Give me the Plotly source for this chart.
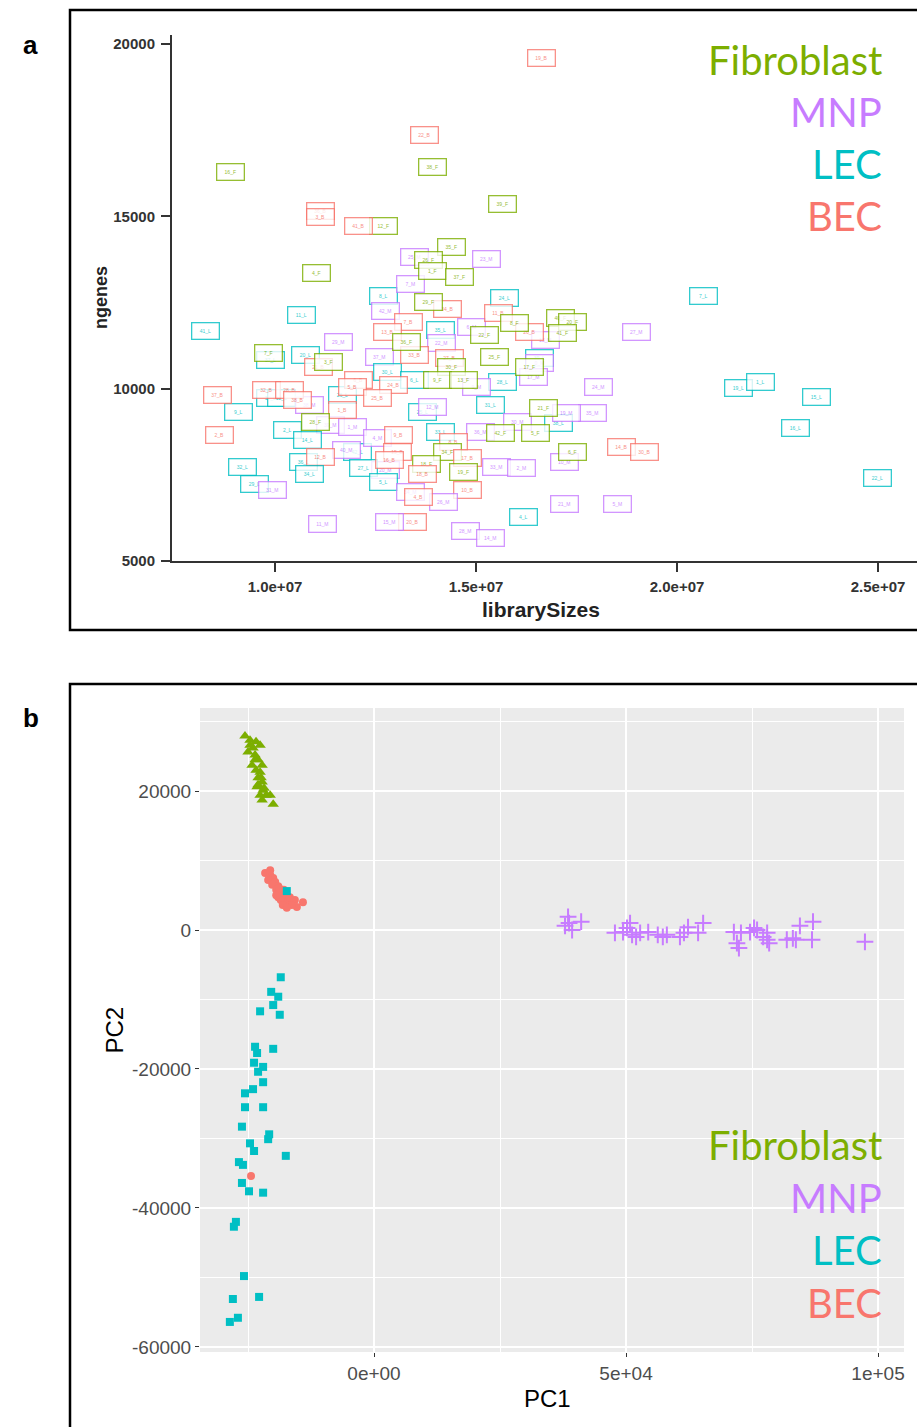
import plotly.graph_objects as go

# ---------------- colours per cell type ----------------
COL = {"Fibroblast": "#7CAE00", "MNP": "#C77CFF", "LEC": "#00BFC4", "BEC": "#F8766D"}

# ---------------- panel a: library size vs detected genes ----------------
fib_names = ["16_F", "38_F", "39_F", "12_F", "35_F", "26_F", "4_F", "1_F", "37_F", "29_F",
             "8_F", "40_F", "20_F", "41_F", "22_F", "36_F", "7_F", "3_F", "25_F", "17_F",
             "30_F", "9_F", "13_F", "28_F", "21_F", "42_F", "5_F", "34_F", "18_F", "19_F", "6_F"]
fib_lib = [8.90e6, 13.91e6, 15.67e6, 12.71e6, 14.38e6, 13.81e6, 11.02e6, 13.93e6, 14.58e6, 13.81e6,
           15.97e6, 17.09e6, 17.39e6, 17.16e6, 15.22e6, 13.28e6, 9.83e6, 11.32e6, 15.47e6, 16.34e6,
           14.40e6, 14.03e6, 14.68e6, 11.00e6, 16.67e6, 15.60e6, 16.47e6, 14.28e6, 13.78e6, 14.68e6, 17.41e6]
fib_genes = [16290, 16440, 15360, 14720, 14120, 13740, 13360, 13420, 13250, 12520,
             11910, 12060, 11940, 11620, 11570, 11360, 11040, 10780, 10930, 10640,
             10640, 10260, 10260, 9040, 9450, 8720, 8720, 8170, 7800, 7590, 8170]

mnp_names = ["25_M", "23_M", "7_M", "42_M", "6_M", "13_M", "22_M", "29_M", "37_M", "0_M",
             "17_M", "9_M", "24_M", "27_M", "38_M", "39_M", "1_M", "12_M", "30_M", "35_M",
             "19_M", "36_M", "4_M", "40_M", "20_M", "33_M", "2_M", "10_M", "31_M", "34_M",
             "26_M", "21_M", "5_M", "11_M", "15_M", "28_M", "14_M"]
mnp_lib = [13.46e6, 15.27e6, 13.38e6, 12.74e6, 14.88e6, 16.72e6, 14.15e6, 11.57e6, 12.61e6, 16.59e6,
           16.42e6, 15.02e6, 18.04e6, 19.00e6, 10.87e6, 11.37e6, 11.92e6, 13.91e6, 16.02e6, 17.91e6,
           17.26e6, 15.10e6, 12.56e6, 11.79e6, 12.74e6, 15.52e6, 16.14e6, 17.21e6, 9.95e6, 13.36e6,
           14.18e6, 17.21e6, 18.53e6, 11.19e6, 12.86e6, 14.73e6, 15.35e6]
mnp_genes = [13830, 13770, 13040, 12260, 11800, 11420, 11330, 11360, 10930, 10750,
             10350, 10060, 10060, 11650, 9540, 8960, 8900, 9480, 9040, 9300,
             9300, 8750, 8580, 8230, 7650, 7740, 7710, 7880, 7070, 6990,
             6700, 6640, 6640, 6060, 6140, 5860, 5680]

lec_names = ["8_L", "24_L", "7_L", "11_L", "41_L", "35_L", "37_L", "20_L", "39_L", "30_L",
             "6_L", "28_L", "26_L", "17_L", "12_L", "9_L", "25_L", "31_L", "38_L", "2_L",
             "14_L", "33_L", "42_L", "32_L", "36_L", "34_L", "27_L", "5_L", "29_L", "4_L",
             "19_L", "1_L", "15_L", "16_L", "22_L"]
lec_lib = [12.71e6, 15.70e6, 20.65e6, 10.67e6, 8.28e6, 14.11e6, 9.88e6, 10.75e6, 16.59e6, 12.79e6,
           13.48e6, 15.65e6, 11.69e6, 9.88e6, 10.17e6, 9.08e6, 13.68e6, 15.35e6, 17.04e6, 10.32e6,
           10.82e6, 14.11e6, 12.04e6, 9.18e6, 10.70e6, 10.87e6, 12.19e6, 12.69e6, 9.50e6, 16.17e6,
           21.52e6, 22.07e6, 23.48e6, 22.94e6, 24.98e6]
lec_genes = [12700, 12640, 12700, 12150, 11680, 11710, 10840, 10990, 10900, 10490,
             10260, 10200, 9830, 9740, 9740, 9330, 9330, 9540, 9010, 8810,
             8520, 8750, 8170, 7740, 7880, 7510, 7710, 7280, 7220, 6290,
             10030, 10200, 9770, 8870, 7420]

bec_names = ["19_B", "22_B", "36_B", "3_B", "41_B", "34_B", "11_B", "7_B", "13_B", "26_B",
             "33_B", "21_B", "27_B", "6_B", "5_B", "24_B", "37_B", "32_B", "28_B", "38_B",
             "25_B", "1_B", "2_B", "9_B", "8_B", "12_B", "15_B", "16_B", "17_B", "18_B",
             "10_B", "4_B", "20_B", "14_B", "30_B"]
bec_lib = [16.62e6, 13.73e6, 11.12e6, 11.12e6, 12.07e6, 14.30e6, 15.55e6, 13.31e6, 12.81e6, 16.34e6,
           13.48e6, 11.07e6, 14.35e6, 12.07e6, 11.92e6, 12.94e6, 8.56e6, 9.80e6, 10.37e6, 10.55e6,
           12.54e6, 11.67e6, 8.63e6, 13.06e6, 14.43e6, 11.12e6, 13.04e6, 12.86e6, 14.78e6, 13.66e6,
           14.80e6, 13.56e6, 13.43e6, 18.61e6, 19.18e6]
bec_genes = [19600, 17360, 15160, 14990, 14720, 12320, 12200, 11940, 11650, 11650,
             10990, 10640, 10900, 10260, 10060, 10120, 9830, 9970, 9970, 9680,
             9740, 9390, 8670, 8670, 8460, 8030, 8170, 7940, 8000, 7510,
             7070, 6870, 6120, 8320, 8150]

a_xticks = [1.0e7, 1.5e7, 2.0e7, 2.5e7]
a_xticktext = ["1.0e+07", "1.5e+07", "2.0e+07", "2.5e+07"]
a_yticks = [5000, 10000, 15000, 20000]
a_yticktext = ["5000", "10000", "15000", "20000"]

# ---------------- panel b: PCA ----------------
fib_pc1 = [-25600, -24600, -23400, -24000, -22600, -25000, -23600, -23000, -24200, -23400,
           -22600, -23000, -22200, -23200, -22000, -22600, -21400, -22200, -20600, -20000,
           -24600, -22200, -23000, -21800, -23600, -22400]
fib_pc2 = [27900, 27300, 27100, 26200, 26600, 25600, 25200, 24500, 23700, 23000,
           22700, 21900, 21300, 20600, 20100, 19400, 19400, 18700, 19400, 18100,
           26600, 23700, 20900, 20400, 24500, 21900]

bec_pc1 = [-21600, -20600, -20000, -21000, -19600, -20200, -19000, -19400, -18700, -18100,
           -19000, -17700, -18500, -17100, -16700, -15700, -14100, -15300, -18100, -19400,
           -20600, -17900, -16300, -17300, -18800, -24400]
bec_pc2 = [8200, 7900, 7500, 7200, 6900, 6500, 6300, 5800, 5500, 5000,
           4700, 4600, 4300, 4000, 4700, 4300, 4000, 3300, 3600, 5000,
           8600, 5800, 3600, 3200, 6000, -35400]

lec_pc1 = [-17300, -18500, -20400, -19000, -20000, -22600, -18700, -23600, -23200, -20000,
           -23800, -22000, -23000, -22000, -24000, -25600, -25600, -22000, -26200, -20800,
           -21000, -24600, -23800, -17500, -26800, -26000, -26200, -24800, -22000, -27400,
           -27800, -25800, -28000, -22800, -27000, -28600]
lec_pc2 = [5600, -6800, -8900, -9600, -10800, -11700, -12200, -16800, -17700, -17100,
           -19100, -19700, -20400, -21900, -22900, -23500, -25500, -25500, -28300, -29400,
           -30100, -30700, -31800, -32500, -33400, -33800, -36400, -37600, -37800, -42000,
           -42700, -49800, -53100, -52800, -55800, -56400]

mnp_pc1 = [38500, 37900, 39300, 41100, 38700, 47800, 49400, 50200, 50800, 51200,
           52000, 52800, 54400, 56300, 57300, 58100, 60700, 61500, 62300, 64300,
           65300, 71400, 72000, 72400, 72800, 74600, 75400, 76000, 77200, 78000,
           78400, 78000, 81900, 83100, 83700, 84500, 87100, 86900, 97400]
mnp_pc2 = [1900, 600, 0, 1200, 1000, -400, -300, 300, 1000, -700,
           -1000, -400, -300, -700, -1000, -700, -1000, -400, 400, -400,
           1000, -300, -1900, -2600, -400, -300, 300, 0, -1000, -1400,
           -1900, -400, -1400, -1200, -1400, 600, 1200, -1400, -1700]

b_xticks = [0, 5e4, 1e5]
b_xticktext = ["0e+00", "5e+04", "1e+05"]
b_xminor = [-2.5e4, 2.5e4, 7.5e4]
b_yticks = [20000, 0, -20000, -40000, -60000]
b_yticktext = ["20000", "0", "-20000", "-40000", "-60000"]
b_yminor = [30000, 10000, -10000, -30000, -50000]

legend_order = ["Fibroblast", "MNP", "LEC", "BEC"]

# ---------------- page geometry ----------------
W, H = 917, 1427


def px(x):
    return x / W


def py(y):
    return 1 - y / H


fig = go.Figure()

# invisible trace to anchor panel a axes
fig.add_trace(go.Scatter(x=fib_lib, y=fib_genes, mode="markers", marker=dict(opacity=0),
                         xaxis="x", yaxis="y", showlegend=False, hoverinfo="skip"))

annotations = []
label_sets = [
    ("BEC", bec_names, bec_lib, bec_genes),
    ("LEC", lec_names, lec_lib, lec_genes),
    ("MNP", mnp_names, mnp_lib, mnp_genes),
    ("Fibroblast", fib_names, fib_lib, fib_genes),
]
# interleave groups so that boxes overlap in mixed order
rows = []
for grp, names, xs, ys in label_sets:
    for i, (n, xv, yv) in enumerate(zip(names, xs, ys)):
        rows.append((i, grp, n, xv, yv))
rows.sort(key=lambda r: r[0])
for _, grp, n, xv, yv in rows:
    annotations.append(dict(
        x=xv, y=yv, xref="x", yref="y", text=n, showarrow=False,
        font=dict(size=5, color=COL[grp], family="Liberation Sans"),
        width=22, height=11, borderpad=2, borderwidth=1.3,
        bordercolor=COL[grp], bgcolor="white", opacity=0.8,
    ))

# panel b scatter traces
fig.add_trace(go.Scatter(x=bec_pc1, y=bec_pc2, mode="markers", xaxis="x2", yaxis="y2",
                         marker=dict(symbol="circle", size=8, color=COL["BEC"]), showlegend=False))
fig.add_trace(go.Scatter(x=lec_pc1, y=lec_pc2, mode="markers", xaxis="x2", yaxis="y2",
                         marker=dict(symbol="square", size=8, color=COL["LEC"]), showlegend=False))
fig.add_trace(go.Scatter(x=fib_pc1, y=fib_pc2, mode="markers", xaxis="x2", yaxis="y2",
                         marker=dict(symbol="triangle-up", size=10, color=COL["Fibroblast"]),
                         showlegend=False))
fig.add_trace(go.Scatter(x=mnp_pc1, y=mnp_pc2, mode="markers", xaxis="x2", yaxis="y2",
                         marker=dict(symbol="cross-thin-open", size=12, color=COL["MNP"],
                                     line=dict(color=COL["MNP"], width=2)),
                         showlegend=False))

# colour-coded cell type keys
for k, grp in enumerate(legend_order):
    annotations.append(dict(x=px(884), y=py(60 + 52 * k), xref="paper", yref="paper",
                            xanchor="right", yanchor="middle", showarrow=False, text=grp,
                            font=dict(family="Lato", size=40, color=COL[grp])))
    annotations.append(dict(x=px(884), y=py(1145 + 52.5 * k), xref="paper", yref="paper",
                            xanchor="right", yanchor="middle", showarrow=False, text=grp,
                            font=dict(family="Lato", size=40, color=COL[grp])))

# panel letters and axis titles
title_font = dict(family="Liberation Sans", color="#222222")
annotations += [
    dict(x=px(21), y=py(45), xref="paper", yref="paper", text="<b>a</b>", showarrow=False,
         yanchor="middle", font=dict(family="Liberation Sans", size=26, color="black")),
    dict(x=px(21), y=py(718), xref="paper", yref="paper", text="<b>b</b>", showarrow=False,
         yanchor="middle", font=dict(family="Liberation Sans", size=26, color="black")),
    dict(x=px(541), y=py(609), xref="paper", yref="paper", text="<b>librarySizes</b>",
         yanchor="middle", showarrow=False, font=dict(title_font, size=21)),
    dict(x=px(89), y=py(298), xref="paper", yref="paper", text="<b>ngenes</b>", textangle=-90,
         yanchor="middle", showarrow=False, font=dict(title_font, size=18)),
    dict(x=px(547), y=py(1398), xref="paper", yref="paper", text="PC1", yanchor="middle",
         showarrow=False, font=dict(family="Liberation Sans", size=24, color="black")),
    dict(x=px(98), y=py(1030), xref="paper", yref="paper", text="PC2", textangle=-90,
         yanchor="middle", showarrow=False,
         font=dict(family="Liberation Sans", size=24, color="black")),
]

shapes = [
    # panel frames (right / bottom sides run off the page)
    dict(type="rect", xref="paper", yref="paper", x0=px(70), x1=1.02, y0=py(630), y1=py(10),
         line=dict(color="black", width=2.5), fillcolor="rgba(0,0,0,0)", layer="above"),
    dict(type="rect", xref="paper", yref="paper", x0=px(70), x1=1.02, y0=-0.02, y1=py(684),
         line=dict(color="black", width=2.5), fillcolor="rgba(0,0,0,0)", layer="above"),
    # grey plotting panel for b
    dict(type="rect", xref="x2 domain", yref="y2 domain", x0=0, x1=1, y0=0, y1=1,
         fillcolor="#EBEBEB", line=dict(width=0), layer="below"),
]

a_tickfont = dict(family="Liberation Sans Narrow, Liberation Sans", size=15, color="#333333",
                  weight="bold")
b_tickfont = dict(family="Liberation Sans", size=19, color="#4D4D4D")

fig.update_layout(
    width=W, height=H,
    margin=dict(l=0, r=0, t=0, b=0, pad=0, autoexpand=False),
    paper_bgcolor="white", plot_bgcolor="rgba(0,0,0,0)", showlegend=False,
    annotations=annotations, shapes=shapes,
    xaxis=dict(domain=[px(172), 1], range=[7.438e6, 2.597e7], anchor="y",
               showgrid=False, zeroline=False, showline=True, linecolor="#333333", linewidth=2,
               ticks="outside", ticklen=9, tickwidth=2, tickcolor="#333333",
               tickvals=a_xticks, ticktext=a_xticktext, tickfont=a_tickfont,
               ticklabelstandoff=2),
    yaxis=dict(domain=[py(561), py(35)], range=[5000, 20261], anchor="x",
               showgrid=False, zeroline=False, showline=True, linecolor="#333333", linewidth=2,
               ticks="outside", ticklen=9, tickwidth=2, tickcolor="#333333",
               tickvals=a_yticks, ticktext=a_yticktext, tickfont=a_tickfont,
               ticklabelstandoff=3),
    xaxis2=dict(domain=[px(200), px(904)], range=[-34524, 105152], anchor="y2",
                showgrid=True, gridcolor="white", gridwidth=1.6, zeroline=False, showline=False,
                ticks="outside", ticklen=4, tickwidth=1.2, tickcolor="#333333",
                tickvals=b_xticks, ticktext=b_xticktext, tickfont=b_tickfont,
                ticklabelstandoff=0,
                minor=dict(tickvals=b_xminor, showgrid=True, gridcolor="white", gridwidth=0.8,
                           ticks="")),
    yaxis2=dict(domain=[py(1352), py(708)], range=[-60726, 31946], anchor="x2",
                showgrid=True, gridcolor="white", gridwidth=1.6, zeroline=False, showline=False,
                ticks="outside", ticklen=4, tickwidth=1.2, tickcolor="#333333",
                tickvals=b_yticks, ticktext=b_yticktext, tickfont=b_tickfont,
                minor=dict(tickvals=b_yminor, showgrid=True, gridcolor="white", gridwidth=0.8,
                           ticks="")),
)

fig.write_html("out.html")
